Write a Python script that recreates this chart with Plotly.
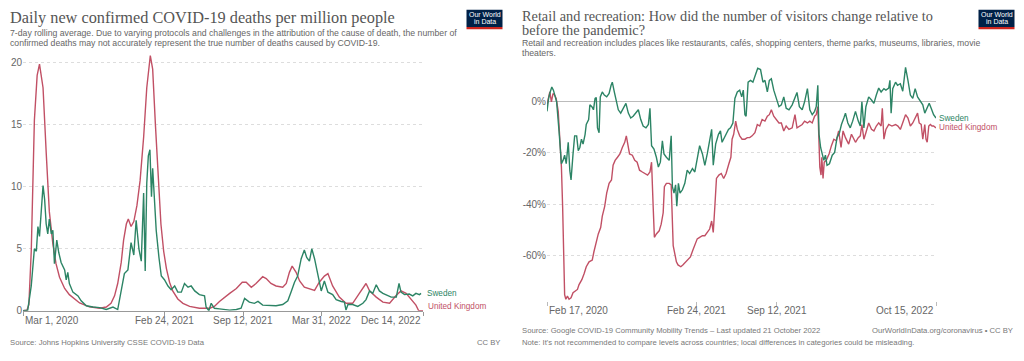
import plotly.graph_objects as go

W, H = 1024, 361

# ---------------- Data: daily new confirmed COVID-19 deaths per million ----------------
deaths_uk_dates = [
    "2020-03-01", "2020-03-11", "2020-03-16", "2020-03-22", "2020-03-30", "2020-04-06", "2020-04-12",
    "2020-04-21", "2020-04-29", "2020-05-07", "2020-05-16", "2020-05-24", "2020-06-02", "2020-06-15",
    "2020-06-27", "2020-07-23", "2020-08-17", "2020-09-12", "2020-09-29", "2020-10-11", "2020-10-20",
    "2020-10-28", "2020-11-06", "2020-11-12", "2020-11-19", "2020-11-24", "2020-12-01", "2020-12-08",
    "2020-12-16", "2020-12-24", "2021-01-02", "2021-01-10", "2021-01-19", "2021-01-25", "2021-02-01",
    "2021-02-08", "2021-02-15", "2021-02-22", "2021-03-01", "2021-03-09", "2021-03-17", "2021-03-30",
    "2021-04-12", "2021-04-29", "2021-05-24", "2021-06-19", "2021-07-01", "2021-07-14", "2021-07-27",
    "2021-08-09", "2021-08-26", "2021-09-10", "2021-09-20", "2021-10-03", "2021-10-15", "2021-11-01",
    "2021-11-10", "2021-11-22", "2021-12-05", "2021-12-22", "2021-12-31", "2022-01-08", "2022-01-15",
    "2022-01-25", "2022-02-03", "2022-02-15", "2022-03-13", "2022-03-25", "2022-04-07", "2022-04-16",
    "2022-04-28", "2022-05-15", "2022-06-01", "2022-06-18", "2022-07-05", "2022-07-22", "2022-07-31",
    "2022-08-17", "2022-09-03", "2022-09-20", "2022-10-07", "2022-10-19", "2022-11-01", "2022-11-18",
    "2022-11-26", "2022-12-03", "2022-12-14",
]
deaths_uk = [
    0, 0.05, 0.5, 4.8, 15.4, 19.0, 19.9,
    18.0, 12.8, 8.0, 5.4, 3.8, 2.7, 1.8,
    1.3, 0.63, 0.32, 0.2, 0.3, 0.6, 1.2,
    2.2, 3.9, 5.7, 7.0, 7.4, 6.8, 7.2,
    8.5, 10.5, 14.0, 18.0, 20.6, 19.5, 15.0,
    10.5, 7.0, 4.8, 3.4, 2.3, 1.6, 0.95,
    0.6, 0.35, 0.2, 0.2, 0.35, 0.75, 1.1,
    1.4, 1.8, 2.3, 2.3, 1.9, 2.2, 2.75,
    2.6, 2.2, 2.0, 1.9, 2.2, 3.1, 3.6,
    3.1, 2.4, 1.9, 1.65, 2.3, 2.8, 3.0,
    2.0, 1.1, 0.6, 0.6, 1.4, 2.2, 1.6,
    1.1, 0.7, 0.6, 1.25, 1.6, 1.4, 0.7,
    0.45, 0, 0,
]

deaths_se_dates = [
    "2020-03-01", "2020-03-13", "2020-03-22", "2020-03-30", "2020-04-04", "2020-04-08", "2020-04-12",
    "2020-04-16", "2020-04-21", "2020-04-25", "2020-04-29", "2020-05-03", "2020-05-07", "2020-05-12",
    "2020-05-16", "2020-05-20", "2020-05-26", "2020-05-31", "2020-06-06", "2020-06-15", "2020-06-19",
    "2020-06-23", "2020-06-27", "2020-07-06", "2020-07-19", "2020-07-27", "2020-08-09", "2020-08-26",
    "2020-09-12", "2020-09-29", "2020-10-16", "2020-10-28", "2020-11-06", "2020-11-14", "2020-11-23",
    "2020-12-01", "2020-12-08", "2020-12-14", "2020-12-21", "2020-12-27", "2021-01-02", "2021-01-06",
    "2021-01-10", "2021-01-14", "2021-01-18", "2021-01-22", "2021-01-25", "2021-01-30", "2021-02-03",
    "2021-02-10", "2021-02-16", "2021-02-24", "2021-03-05", "2021-03-13", "2021-03-22", "2021-03-30",
    "2021-04-08", "2021-04-16", "2021-04-25", "2021-05-03", "2021-05-12", "2021-05-24", "2021-06-06",
    "2021-06-10", "2021-06-17", "2021-06-23", "2021-07-01", "2021-07-14", "2021-08-09", "2021-08-26",
    "2021-09-07", "2021-09-16", "2021-09-28", "2021-10-11", "2021-10-20", "2021-11-01", "2021-11-18",
    "2021-12-05", "2021-12-22", "2022-01-04", "2022-01-12", "2022-01-21", "2022-01-29", "2022-02-07",
    "2022-02-15", "2022-02-21", "2022-02-28", "2022-03-06", "2022-03-13", "2022-03-21", "2022-03-25",
    "2022-03-30", "2022-04-07", "2022-04-16", "2022-04-28", "2022-05-07", "2022-05-20", "2022-05-28",
    "2022-06-01", "2022-06-06", "2022-06-18", "2022-07-01", "2022-07-14", "2022-07-22", "2022-07-31",
    "2022-08-08", "2022-08-17", "2022-08-25", "2022-09-03", "2022-09-11", "2022-09-24", "2022-10-07",
    "2022-10-14", "2022-10-19", "2022-10-28", "2022-11-09", "2022-11-18", "2022-11-26", "2022-12-05",
    "2022-12-09",
]
deaths_se = [
    0, 0.05, 2.0, 5.0, 4.8, 6.8, 6.0,
    8.0, 10.1, 9.0, 7.0, 6.2, 7.4, 6.2,
    6.5, 3.8, 5.7, 4.7, 3.9, 3.3, 2.5,
    3.1, 2.2, 1.5, 1.2, 0.8, 0.4, 0.3,
    0.25, 0.1, 0.3, 0.1, 1.5, 3.0, 3.3,
    5.5, 4.5, 7.3, 5.0, 4.0, 9.5, 3.2,
    10.3, 12.5, 13.0, 9.2, 11.5, 8.0, 6.5,
    4.3, 2.8, 2.5, 2.0, 1.7, 2.0, 1.5,
    1.5, 2.2, 1.9, 2.0, 1.6, 1.3, 1.2,
    0.3, 0.0, 0.6, 0.2, 0.15, 0.05, 0.1,
    0.2, 1.0, 0.7, 0.6, 0.75, 0.45, 0.4,
    0.4, 0.5, 0.8, 1.5, 2.3, 2.8, 4.2,
    4.9, 4.3, 4.0, 5.0, 4.2, 3.0, 2.2,
    1.6, 2.4, 1.5, 1.3, 0.9, 0.75, 0.7,
    0.05, 0.5, 0.5, 0.35, 0.6, 0.9, 1.6,
    1.4, 2.1, 1.6, 1.4, 1.3, 1.1, 1.1,
    2.2, 1.5, 1.3, 1.35, 1.2, 1.4, 1.3,
    1.4,
]

# ---------------- Data: retail and recreation mobility (% change) ----------------
retail_se_dates = [
    "2020-02-17", "2020-02-21", "2020-02-25", "2020-02-29", "2020-03-04", "2020-03-08", "2020-03-12",
    "2020-03-18", "2020-03-24", "2020-03-28", "2020-04-01", "2020-04-05", "2020-04-10", "2020-04-14",
    "2020-04-17", "2020-04-22", "2020-04-26", "2020-05-01", "2020-05-05", "2020-05-09", "2020-05-13",
    "2020-05-17", "2020-05-22", "2020-05-25", "2020-05-31", "2020-06-03", "2020-06-08", "2020-06-12",
    "2020-06-16", "2020-06-19", "2020-06-22", "2020-06-26", "2020-06-29", "2020-07-04", "2020-07-09",
    "2020-07-15", "2020-07-21", "2020-07-26", "2020-07-29", "2020-08-03", "2020-08-08", "2020-08-13",
    "2020-08-19", "2020-08-25", "2020-09-01", "2020-09-07", "2020-09-13", "2020-09-19", "2020-09-26",
    "2020-10-02", "2020-10-08", "2020-10-14", "2020-10-21", "2020-10-27", "2020-10-31", "2020-11-04",
    "2020-11-10", "2020-11-16", "2020-11-21", "2020-11-26", "2020-12-01", "2020-12-05", "2020-12-11",
    "2020-12-18", "2020-12-23", "2020-12-26", "2020-12-30", "2021-01-03", "2021-01-06", "2021-01-10",
    "2021-01-14", "2021-01-20", "2021-01-26", "2021-02-01", "2021-02-07", "2021-02-14", "2021-02-20",
    "2021-02-26", "2021-03-04", "2021-03-11", "2021-03-17", "2021-03-23", "2021-03-29", "2021-04-03",
    "2021-04-07", "2021-04-13", "2021-04-20", "2021-04-25", "2021-04-29", "2021-05-08", "2021-05-15",
    "2021-05-20", "2021-05-26", "2021-05-31", "2021-06-06", "2021-06-12", "2021-06-17", "2021-06-21",
    "2021-06-25", "2021-06-28", "2021-07-03", "2021-07-09", "2021-07-15", "2021-07-22", "2021-07-27",
    "2021-08-03", "2021-08-09", "2021-08-14", "2021-08-20", "2021-08-25", "2021-08-30", "2021-09-05",
    "2021-09-11", "2021-09-18", "2021-09-24", "2021-09-30", "2021-10-06", "2021-10-13", "2021-10-21",
    "2021-10-28", "2021-11-02", "2021-11-08", "2021-11-15", "2021-11-21", "2021-11-28", "2021-12-04",
    "2021-12-10", "2021-12-16", "2021-12-20", "2021-12-24", "2021-12-27", "2021-12-31", "2022-01-04",
    "2022-01-08", "2022-01-12", "2022-01-16", "2022-01-22", "2022-01-29", "2022-02-04", "2022-02-10",
    "2022-02-16", "2022-02-21", "2022-02-27", "2022-03-03", "2022-03-09", "2022-03-15", "2022-03-21",
    "2022-03-28", "2022-04-04", "2022-04-09", "2022-04-13", "2022-04-18", "2022-04-23", "2022-04-30",
    "2022-05-07", "2022-05-13", "2022-05-19", "2022-05-25", "2022-05-31", "2022-06-07", "2022-06-12",
    "2022-06-19", "2022-06-22", "2022-06-25", "2022-06-29", "2022-07-06", "2022-07-11", "2022-07-18",
    "2022-07-24", "2022-07-31", "2022-08-06", "2022-08-12", "2022-08-18", "2022-08-24", "2022-08-30",
    "2022-09-06", "2022-09-12", "2022-09-17", "2022-09-23", "2022-09-28", "2022-10-03", "2022-10-09",
    "2022-10-15",
]
retail_se = [
    -4, 1, 3.5, 5.4, 4.2, 1.6, -0.3,
    -11.6, -24.3, -23, -21, -24.3, -16, -27,
    -30.6, -20.5, -13.5, -13.5, -19.2, -18, -14.8,
    -16.7, -13, -9.1, -7.2, -1.5, -2.2, -3.4,
    1, 1.3, -10.4, -12.3, 1.6, 3.5, 2.3,
    1.6, 2.9, 6.1, 7.3, 3.5, -0.3, -3.4,
    -4.7, -2.8, -0.9, -4.7, -6.6, -5.9, -4.7,
    -3.4, -7.2, -9.7, -10.4, -9.1, -2.8, -17.3,
    -18.6, -21.8, -25.6, -23.7, -15.4, -20.5, -21.8,
    -23, -13.5, -33.2, -35.7, -32.5, -40.8, -31.9,
    -35.7, -34.4, -31.9, -26.8, -28.1, -26.2, -27.5,
    -23, -17.3, -20.5, -24.9, -20.5, -15.4, -11,
    -24.9, -16.7, -12.9, -11.6, -16, -12.9, -11,
    -10.4, -8.5, 1, 3.5, 4.2, 1.6, 4.2,
    -5.3, -5.9, 7.3, 8, 7.3, 10.5, 12.7,
    12.2, 7.3, 8, 3.5, 8, 8.6, 4.2,
    1, -2.2, -1.5, 1.6, -2.8, -3.4, -1.5,
    1, 3.3, -2.2, -3.4, -0.3, 4.8, -3.4,
    -5.3, -4, -2.2, 6.1, -12.9, -18, -20.5,
    -23, -21, -24.9, -24.3, -21, -19.9, -14.2,
    -12.3, -9.1, -6.6, -4.7, -8.5, -10.4, -7.8,
    -4, -7.8, -9.7, -0.3, -10.4, -2.2, 1.6,
    0.4, -0.9, 2.3, 5, 3.5, 4.8, 4.2,
    5, 8, -4.7, 4.8, 7.3, 6.1, 6.7,
    3.8, 13, 8, 2.3, 1, 4.8, 1.6,
    -0.3, -1.5, -4.7, -2.2, -0.9, -2.8, -5.3,
    -6.6,
]

retail_uk_dates = [
    "2020-02-17", "2020-02-21", "2020-02-24", "2020-02-28", "2020-03-03", "2020-03-07", "2020-03-11",
    "2020-03-16", "2020-03-20", "2020-03-24", "2020-03-27", "2020-03-29", "2020-04-01", "2020-04-04",
    "2020-04-08", "2020-04-12", "2020-04-17", "2020-04-22", "2020-04-27", "2020-05-03", "2020-05-07",
    "2020-05-14", "2020-05-20", "2020-05-25", "2020-06-01", "2020-06-09", "2020-06-13", "2020-06-19",
    "2020-06-24", "2020-06-30", "2020-07-04", "2020-07-10", "2020-07-15", "2020-07-21", "2020-07-27",
    "2020-07-31", "2020-08-05", "2020-08-11", "2020-08-17", "2020-08-23", "2020-08-29", "2020-09-02",
    "2020-09-06", "2020-09-10", "2020-09-17", "2020-09-23", "2020-09-29", "2020-10-05", "2020-10-12",
    "2020-10-19", "2020-10-25", "2020-10-31", "2020-11-04", "2020-11-08", "2020-11-11", "2020-11-16",
    "2020-11-23", "2020-11-28", "2020-12-03", "2020-12-06", "2020-12-11", "2020-12-18", "2020-12-23",
    "2020-12-28", "2021-01-01", "2021-01-05", "2021-01-09", "2021-01-16", "2021-01-21", "2021-01-28",
    "2021-02-03", "2021-02-09", "2021-02-15", "2021-02-20", "2021-02-26", "2021-03-04", "2021-03-11",
    "2021-03-17", "2021-03-23", "2021-03-29", "2021-04-03", "2021-04-07", "2021-04-11", "2021-04-15",
    "2021-04-21", "2021-04-27", "2021-05-03", "2021-05-09", "2021-05-16", "2021-05-21", "2021-05-24",
    "2021-05-28", "2021-06-02", "2021-06-06", "2021-06-12", "2021-06-18", "2021-06-25", "2021-07-01",
    "2021-07-07", "2021-07-13", "2021-07-20", "2021-07-26", "2021-08-01", "2021-08-07", "2021-08-14",
    "2021-08-20", "2021-08-25", "2021-08-30", "2021-09-05", "2021-09-11", "2021-09-18", "2021-09-24",
    "2021-09-30", "2021-10-06", "2021-10-13", "2021-10-21", "2021-10-28", "2021-11-02", "2021-11-08",
    "2021-11-15", "2021-11-21", "2021-11-28", "2021-12-04", "2021-12-10", "2021-12-16", "2021-12-20",
    "2021-12-24", "2021-12-27", "2021-12-29", "2022-01-01", "2022-01-03", "2022-01-06", "2022-01-09",
    "2022-01-14", "2022-01-21", "2022-01-27", "2022-02-02", "2022-02-08", "2022-02-14", "2022-02-20",
    "2022-02-25", "2022-03-03", "2022-03-11", "2022-03-18", "2022-03-24", "2022-03-28", "2022-04-04",
    "2022-04-09", "2022-04-13", "2022-04-18", "2022-04-23", "2022-04-30", "2022-05-07", "2022-05-13",
    "2022-05-19", "2022-05-25", "2022-05-31", "2022-06-03", "2022-06-07", "2022-06-12", "2022-06-19",
    "2022-06-27", "2022-07-06", "2022-07-12", "2022-07-18", "2022-07-24", "2022-07-31", "2022-08-06",
    "2022-08-12", "2022-08-18", "2022-08-24", "2022-08-30", "2022-09-03", "2022-09-08", "2022-09-12",
    "2022-09-17", "2022-09-20", "2022-09-23", "2022-09-27", "2022-10-01", "2022-10-05", "2022-10-09",
    "2022-10-15",
]
retail_uk = [
    -1.5, 2.3, 3.5, -0.3, 2.9, 2.3, 1,
    -4, -12.9, -25.6, -40.8, -58.5, -75, -76.8,
    -75.6, -76.8, -76.2, -74.3, -73.7, -73, -71.1,
    -69.2, -66.7, -64.2, -62.3, -61.6, -58.5, -54.7,
    -51.5, -49, -44.6, -40.8, -35.7, -31.9, -30.6,
    -24.9, -23, -21.8, -20.5, -18, -16, -13.5,
    -18, -20.5, -21, -23, -23.7, -26.8, -27.5,
    -28.1, -28.7, -27.5, -23.7, -40.8, -52.8, -51.5,
    -50.3, -47.7, -43.3, -33.2, -31.9, -31.9, -32.5,
    -56, -59.7, -62.3, -63.5, -64.2, -63.5, -62.3,
    -61, -60.4, -57.8, -56, -53.4, -52.8, -52.2,
    -52.2, -50.9, -49.6, -46.5, -50.9, -40.8, -30,
    -28.7, -28.1, -30, -28.1, -24.3, -21.8, -14.8,
    -12.9, -7.8, -11, -13.5, -14.8, -14.8, -14.2,
    -14.2, -13.5, -12.3, -9.1, -9.7, -7.2, -7.8,
    -5.9, -5.3, -3.4, -5.9, -7.2, -8.5, -8.5,
    -11.6, -9.7, -11, -10.4, -5.3, -10.4, -9.7,
    -9.1, -7.8, -8.5, -7.8, -8.5, -5.9, -5.3,
    -2.2, -15.4, -25.6, -28.7, -21.8, -30, -23.7,
    -23, -20.5, -17.3, -14.8, -15.4, -11.6, -18,
    -11.6, -14.2, -16.7, -12.9, -14.8, -16, -14.2,
    -13.5, -9.1, -14.8, -12.3, -8.5, -11, -11.6,
    -9.7, -8.5, -9.7, -2.8, -14.8, -11, -9.1,
    -9.7, -9.1, -9.7, -11, -8.5, -5.3, -6.6,
    -9.7, -8.5, -6.6, -4.7, -8.5, -9.1, -14.8,
    -9.1, -14.8, -16, -9.7, -9.1, -9.7, -9.7,
    -10.4,
]

# ---------------- Axis ticks / labels ----------------
left_x_ticks = ["2020-03-01", "2021-02-24", "2021-09-12", "2022-03-31", "2022-12-14"]
left_x_labels = ["Mar 1, 2020", "Feb 24, 2021", "Sep 12, 2021", "Mar 31, 2022", "Dec 14, 2022"]
left_y_ticks = [0, 5, 10, 15, 20]
left_y_labels = ["0", "5", "10", "15", "20"]

right_x_ticks = ["2020-02-17", "2021-02-24", "2021-09-12", "2022-10-15"]
right_x_labels = ["Feb 17, 2020", "Feb 24, 2021", "Sep 12, 2021", "Oct 15, 2022"]
right_y_ticks = [0, -20, -40, -60]
right_y_labels = ["0%", "-20%", "-40%", "-60%"]

SWEDEN = "#2C8465"
UK = "#C15065"
SANS = "Liberation Sans, Arial, sans-serif"
SERIF = "Liberation Serif, Georgia, serif"


def px(x):
    return x / W


def py(y):
    return 1 - y / H


fig = go.Figure()

fig.add_trace(go.Scatter(x=deaths_uk_dates, y=deaths_uk, mode="lines", name="United Kingdom",
                         line=dict(color=UK, width=1.4), xaxis="x", yaxis="y"))
fig.add_trace(go.Scatter(x=deaths_se_dates, y=deaths_se, mode="lines", name="Sweden",
                         line=dict(color=SWEDEN, width=1.4), xaxis="x", yaxis="y"))
fig.add_trace(go.Scatter(x=retail_uk_dates, y=retail_uk, mode="lines", name="United Kingdom",
                         line=dict(color=UK, width=1.4), xaxis="x2", yaxis="y2"))
fig.add_trace(go.Scatter(x=retail_se_dates, y=retail_se, mode="lines", name="Sweden",
                         line=dict(color=SWEDEN, width=1.4), xaxis="x2", yaxis="y2"))

tickfont = dict(family=SANS, size=10, color="#666")

fig.update_layout(
    width=W, height=H, margin=dict(l=0, r=0, t=0, b=0),
    paper_bgcolor="white", plot_bgcolor="white", showlegend=False,
    xaxis=dict(domain=[px(23), px(423)], type="date", range=[left_x_ticks[0], left_x_ticks[-1]],
               anchor="y", showgrid=False, zeroline=False, showline=True, linecolor="#999", linewidth=1,
               tickvals=left_x_ticks, ticks="outside", ticklen=4, tickcolor="#999", showticklabels=False),
    yaxis=dict(domain=[py(316), py(55.2)], range=[0, 20.7], anchor="x",
               tickvals=left_y_ticks, ticktext=left_y_labels, tickfont=tickfont,
               showgrid=True, gridcolor="#ddd", griddash="3px,3px", zeroline=False, showline=False, ticks=""),
    xaxis2=dict(domain=[px(547), px(936)], type="date", range=[right_x_ticks[0], right_x_ticks[-1]],
                anchor="y2", showgrid=False, zeroline=False, showline=False,
                tickvals=right_x_ticks, ticks="outside", ticklen=4, tickcolor="#bbb", showticklabels=False),
    yaxis2=dict(domain=[py(306.4), py(67.8)], range=[-77.6, 13.3], anchor="x2",
                tickvals=right_y_ticks, ticktext=right_y_labels, tickfont=tickfont,
                showgrid=True, gridcolor="#ddd", griddash="3px,3px",
                zeroline=True, zerolinecolor="#bbb", zerolinewidth=1, showline=False, ticks=""),
)

ann = []

# x tick labels
for i, (d, t) in enumerate(zip(left_x_ticks, left_x_labels)):
    xa = "left" if i == 0 else ("right" if i == len(left_x_ticks) - 1 else "center")
    ann.append(dict(x=d, y=py(325.5), xref="x", yref="paper", text=t, showarrow=False,
                    xanchor=xa, yanchor="middle", font=dict(family=SANS, size=10, color="#666")))
for i, (d, t) in enumerate(zip(right_x_ticks, right_x_labels)):
    xa = "left" if i == 0 else ("right" if i == len(right_x_ticks) - 1 else "center")
    ann.append(dict(x=d, y=py(315.5), xref="x2", yref="paper", text=t, showarrow=False,
                    xanchor=xa, yanchor="middle", font=dict(family=SANS, size=10, color="#666")))

# series end labels
LBL = 8.2
ann.append(dict(x=deaths_se_dates[-1], y=deaths_se[-1], xref="x", yref="y", text="Sweden",
                showarrow=False, xanchor="left", yanchor="middle", xshift=4,
                font=dict(family=SANS, size=LBL, color=SWEDEN)))
ann.append(dict(x=deaths_uk_dates[-1], y=deaths_uk[-1], xref="x", yref="y", text="United Kingdom",
                showarrow=False, xanchor="left", yanchor="middle", xshift=3, yshift=4,
                font=dict(family=SANS, size=LBL, color=UK)))
ann.append(dict(x=retail_se_dates[-1], y=retail_se[-1], xref="x2", yref="y2", text="Sweden",
                showarrow=False, xanchor="left", yanchor="middle", xshift=1,
                font=dict(family=SANS, size=LBL, color=SWEDEN)))
ann.append(dict(x=retail_uk_dates[-1], y=retail_uk[-1], xref="x2", yref="y2", text="United Kingdom",
                showarrow=False, xanchor="left", yanchor="middle", xshift=1,
                font=dict(family=SANS, size=LBL, color=UK)))

# titles
TITLE_L = dict(family=SERIF, size=16.3, color="#555")
TITLE_R = dict(family=SERIF, size=14.3, color="#555")
SUB = dict(family=SANS, size=8.7, color="#666")
FOOT = dict(family=SANS, size=7.7, color="#777")


def text(x, y, t, font, xa="left"):
    ann.append(dict(x=px(x), y=py(y), xref="paper", yref="paper", text=t, showarrow=False,
                    xanchor=xa, yanchor="middle", font=font, borderpad=0))


text(9, 17.5, "Daily new confirmed COVID-19 deaths per million people", TITLE_L)
text(9, 34, "7-day rolling average. Due to varying protocols and challenges in the attribution of the cause of death, the number of", SUB)
text(9, 43.5, "confirmed deaths may not accurately represent the true number of deaths caused by COVID-19.", SUB)

text(521, 16.3, "Retail and recreation: How did the number of visitors change relative to", TITLE_R)
text(521, 30, "before the pandemic?", TITLE_R)
text(521, 44, "Retail and recreation includes places like restaurants, cafés, shopping centers, theme parks, museums, libraries, movie", SUB)
text(521, 53.5, "theaters.", SUB)

# footers
text(9, 348, "Source: Johns Hopkins University CSSE COVID-19 Data", FOOT)
text(502, 348, "CC BY", FOOT, xa="right")
text(521, 336, "Source: Google COVID-19 Community Mobility Trends – Last updated 21 October 2022", FOOT)
text(1014, 336, "OurWorldInData.org/coronavirus • CC BY", FOOT, xa="right")
text(521, 348, "Note: It's not recommended to compare levels across countries; local differences in categories could be misleading.", FOOT)

# logos
shapes = []
for x0 in (466.5, 978.5):
    shapes.append(dict(type="rect", xref="paper", yref="paper", x0=px(x0), x1=px(x0 + 36),
                       y0=py(27.5), y1=py(10), fillcolor="#002147", line=dict(width=0), layer="above"))
    shapes.append(dict(type="rect", xref="paper", yref="paper", x0=px(x0), x1=px(x0 + 36),
                       y0=py(29.8), y1=py(27.5), fillcolor="#ce261e", line=dict(width=0), layer="above"))
    ann.append(dict(x=px(x0 + 18), y=py(14.8), xref="paper", yref="paper", text="Our World",
                    showarrow=False, xanchor="center", yanchor="middle", borderpad=0,
                    font=dict(family=SANS, size=7, color="white")))
    ann.append(dict(x=px(x0 + 18), y=py(22), xref="paper", yref="paper", text="in Data",
                    showarrow=False, xanchor="center", yanchor="middle", borderpad=0,
                    font=dict(family=SANS, size=7, color="white")))

fig.update_layout(annotations=ann, shapes=shapes)

fig.write_html("out.html",
               config={"displayModeBar": False},
               post_script="document.body.style.margin='0px';document.body.style.overflow='hidden';")
